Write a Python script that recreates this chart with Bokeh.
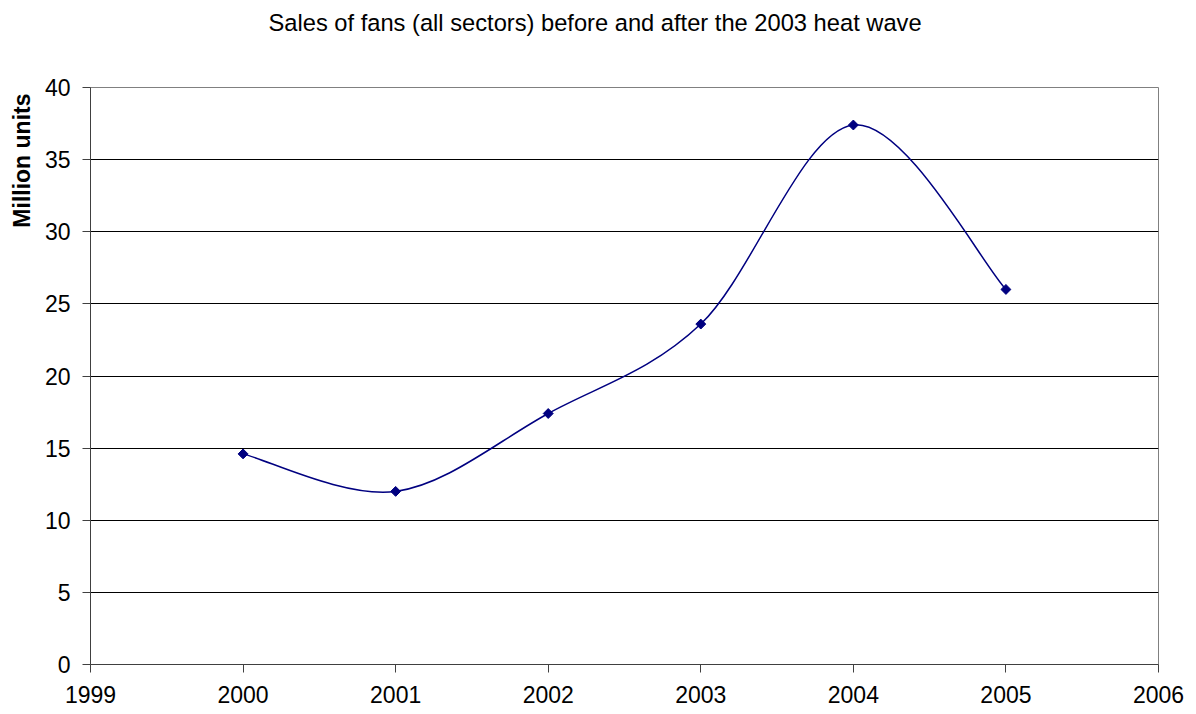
import math

from bokeh.embed import file_html
from bokeh.models import FixedTicker, Range1d, Title
from bokeh.plotting import figure
from bokeh.resources import INLINE

# Fan sales, all sectors (million units)
years = [2000, 2001, 2002, 2003, 2004, 2005]
sales = [14.6, 12.0, 17.4, 23.6, 37.4, 26.0]

x_ticks = [1999, 2000, 2001, 2002, 2003, 2004, 2005, 2006]
y_ticks = [0, 5, 10, 15, 20, 25, 30, 35, 40]

TITLE = "Sales of fans (all sectors) before and after the 2003 heat wave"
Y_LABEL = "Million units"

LINE_COLOR = "#000080"
FONT = "Liberation Sans"
FONT_SIZE = "23px"

p = figure(
    width=1196,
    height=714,
    output_backend="svg",
    toolbar_location=None,
    title=None,
    x_range=Range1d(1999, 2006),
    y_range=Range1d(0, 40),
    min_border_left=90,
    min_border_right=38,
    min_border_top=87,
    min_border_bottom=50,
)

p.background_fill_color = "white"
p.border_fill_color = "white"
p.outline_line_color = "#808080"
p.outline_line_width = 1

# Blank band between the plot area and the chart title
p.add_layout(Title(text=" ", text_font_size="1px", standoff=43), "above")

# Chart title, near the top edge of the chart
p.add_layout(Title(text=TITLE, align="left", offset=178, standoff=11,
                   text_font=FONT, text_font_size="23.7px",
                   text_font_style="normal", text_color="black"), "above")

# Value axis title, aligned with the top end of the axis
p.add_layout(Title(text=Y_LABEL, align="right", offset=6, standoff=13,
                   text_font=FONT, text_font_size=FONT_SIZE,
                   text_font_style="bold", text_color="black"), "left")

# Gridlines
p.xgrid.grid_line_color = None
p.ygrid.grid_line_color = "black"
p.ygrid.grid_line_width = 1
p.ygrid.ticker = FixedTicker(ticks=y_ticks)

# Axes
p.xaxis.ticker = FixedTicker(ticks=x_ticks)
p.yaxis.ticker = FixedTicker(ticks=y_ticks)
for ax in (p.xaxis[0], p.yaxis[0]):
    ax.axis_line_color = "#404040"
    ax.major_tick_line_color = "#404040"
    ax.major_tick_out = 8
    ax.major_tick_in = 0
    ax.minor_tick_out = 0
    ax.minor_tick_in = 0
    ax.major_label_text_font = FONT
    ax.major_label_text_font_size = FONT_SIZE
    ax.major_label_text_color = "black"
p.xaxis.major_label_standoff = 13
p.yaxis.major_label_standoff = 12

# Smoothed line: cubic Bezier segments with Catmull-Rom style control points
n = len(years)
x0, y0, x1, y1, cx0, cy0, cx1, cy1 = [], [], [], [], [], [], [], []
for i in range(n - 1):
    ip = max(i - 1, 0)
    inn = min(i + 2, n - 1)
    x0.append(years[i])
    y0.append(sales[i])
    x1.append(years[i + 1])
    y1.append(sales[i + 1])
    cx0.append(years[i] + (years[i + 1] - years[ip]) / 6)
    cy0.append(sales[i] + (sales[i + 1] - sales[ip]) / 6)
    cx1.append(years[i + 1] - (years[inn] - years[i]) / 6)
    cy1.append(sales[i + 1] - (sales[inn] - sales[i]) / 6)

p.bezier(x0=x0, y0=y0, x1=x1, y1=y1, cx0=cx0, cy0=cy0, cx1=cx1, cy1=cy1,
         line_color=LINE_COLOR, line_width=1.5)

p.scatter(years, sales, marker="square", angle=math.pi / 4, size=7,
          fill_color=LINE_COLOR, line_color=LINE_COLOR)

open("out.html", "w").write(file_html(p, INLINE))
